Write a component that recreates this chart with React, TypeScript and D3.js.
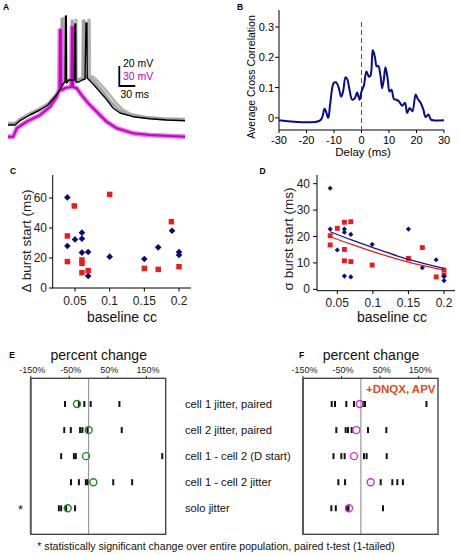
import React from "react";
import * as d3 from "d3";

// ---------- Panel A: membrane potential traces [time ms, mV] ----------
const traceBlack: [number, number][] = [
  [0, -70], [13, -70], [22.5, -65.7], [41, -60], [60, -55], [75, -50], [88, -41.7], [97.5, -35],
  [103, -29], [107, -27], [108, 39], [109.4, 39], [110, -28], [114.5, -25], [124.5, -25], [125.5, 31],
  [127, 31], [127.5, -27], [133, -27], [139, -25], [144.5, -24], [146.3, 32], [148, 32], [148.6, -23],
  [154, -26], [163, -31], [172.6, -37], [185.7, -45], [197, -53], [210, -58], [234.5, -61.7],
  [266, -63.7], [298, -65], [332, -65.7],
];
const traceGray: [number, number][] = [
  [0, -69], [13, -69], [22.5, -64.5], [41, -59], [60, -54], [75, -49], [88, -41], [97, -34],
  [100, -30], [101, 36], [102, 36], [102.5, -28], [108, -26], [119, -24], [120, 34], [121, 34],
  [121.5, -25], [130, -25], [140, -23], [141, 34], [143, 34], [143.5, -22], [152, -22], [162, -27],
  [172, -33], [183, -40], [195, -48], [208, -55], [222, -59], [250, -62], [290, -64], [332, -64.5],
];
const traceGray2: [number, number][] = [
  [0, -68], [13, -68], [24, -63.5], [43, -58], [62, -53], [77, -48], [90, -40], [99, -33],
  [104, -29], [105, 37], [106, 37], [106.5, -27], [114, -25], [126, -23], [127, 35], [128, 35],
  [128.5, -24], [138, -24], [150, -22], [151, 35], [153, 35], [153.5, -21], [160, -22], [170, -27],
  [180, -33], [191, -40], [203, -48], [216, -55], [230, -59], [258, -62], [296, -63.5], [332, -64],
];
const traceMagenta: [number, number][] = [
  [0, -70], [10, -70], [16.3, -57.4], [35, -47.5], [60, -37.5], [79, -25], [91.4, -10], [96.6, 1.5],
  [97.5, 90], [99.4, 90], [100, 0], [107, 3], [114, 4], [119, 5], [120, 94.5], [121.5, 94.5],
  [122, 4.5], [129, 2.6], [138, -7.5], [150.7, -20], [166.4, -32.5], [185, -47.5], [204, -57.4],
  [235, -65], [266, -67.5], [332, -70],
];

// ---------- Panel B: average cross correlation ----------
const ccDelay = [-30, -15, -13.4, -12.1, -11.4, -10.1, -9.2, -8.3, -7.4, -6.7, -5.8, -5.1, -4.4, -3.4,
  -2.4, -1.6, -0.7, 0, 0.85, 1.8, 2.7, 3.3, 4.1, 4.9, 5.5, 6.1, 6.9, 7.5, 8.1, 8.7, 9.5, 10.2, 10.9,
  11.8, 12.6, 13.6, 14.8, 15.8, 16.6, 17.5, 18.5, 19.7, 20.5, 21.5, 22.5, 23.3, 24.3, 25.2, 26, 30];
const ccValue = [-0.008, -0.008, 0.03, 0.0, 0.045, 0.115, 0.117, 0.1, 0.07, 0.087, 0.134, 0.126, 0.095,
  0.06, 0.065, 0.084, 0.06, 0.087, 0.106, 0.153, 0.136, 0.14, 0.224, 0.2, 0.17, 0.172, 0.14, 0.098,
  0.125, 0.167, 0.13, 0.087, 0.093, 0.062, 0.06, 0.055, 0.04, 0.05, 0.016, 0.033, 0.022, 0.077, 0.062,
  0.05, 0.027, 0.003, 0.011, -0.005, -0.008, -0.008];
const bYTicks = [0, 0.1, 0.2, 0.3];
const bXTicks = [-30, -20, -10, 0, 10, 20, 30];

// ---------- Panel C: delta burst start vs baseline cc ----------
const cBlueX = [0.039, 0.039, 0.05, 0.06, 0.06, 0.06, 0.069, 0.069, 0.1, 0.15, 0.17, 0.19, 0.2, 0.2];
const cBlueY = [60.4, 28, 32.4, 36.9, 32.9, 23.6, 24, 8, 20.9, 19.3, 27.1, 38.2, 24, 22];
const cRedX = [0.039, 0.039, 0.049, 0.06, 0.06, 0.06, 0.069, 0.1, 0.15, 0.17, 0.189, 0.2];
const cRedY = [34.7, 17.6, 54.7, 18.7, 16.4, 10.2, 11.6, 62.4, 13.1, 12.4, 44.2, 14.2];
const cYTicks = [0, 20, 40, 60];
const ccTicks = [0.05, 0.1, 0.15, 0.2];

// ---------- Panel D: sigma burst start vs baseline cc ----------
const dBlueX = [0.04, 0.04, 0.05, 0.06, 0.06, 0.06, 0.069, 0.069, 0.099, 0.15, 0.1695, 0.189, 0.2, 0.2];
const dBlueY = [38.3, 22.8, 14.9, 22.8, 21.6, 5, 20.8, 4.7, 17, 22.8, 8.2, 11.2, 4.9, 3.3];
const dRedX = [0.04, 0.04, 0.05, 0.06, 0.06, 0.06, 0.069, 0.069, 0.099, 0.15, 0.1695, 0.189, 0.2, 0.2];
const dRedY = [20.3, 16.8, 23.1, 25.4, 15.1, 10.8, 25.6, 10.5, 9.2, 11.7, 15.8, 4.7, 7.3, 5.4];
const dFitX = [0.04, 0.07, 0.1, 0.15, 0.2];
const dFitBlue = [21.8, 18.7, 15.8, 11.3, 7.9];
const dFitRed = [19.9, 17.0, 14.3, 10.3, 7.3];
const dYTicks = [0, 10, 20, 30, 40];

// ---------- Panels E / F: percent change ----------
const rowLabels = [
  "cell 1 jitter, paired",
  "cell 2 jitter, paired",
  "cell 1 - cell 2 (D start)",
  "cell 1 - cell 2 jitter",
  "solo jitter",
];
const pctTicks = [-150, -50, 50, 150];
const eTicks: number[][] = [
  [-61, -25, -11, 5.5, 80],
  [-63, -46, -22, -16, -3, 86],
  [-71, -38, -33, 191],
  [-45.5, -25, -7, -3, 64, 113],
  [-77, -71, -58, -35],
];
const eMeans = [-30, 0.3, -6.6, 12.4, -54];
const fTicks: number[][] = [
  [-75.6, -67, -37.7, -17.8, 5.5, 10.8, 170],
  [-63.6, -39.4, -33.3, -23.8, 18.5, 66],
  [-71, -50.6, -42, 8.2, 15, 67],
  [-58.4, -41, 51.4, 81.6, 94.5, 109],
  [-76.5, -65, -36.5, -32, 57.4],
];
const fMeans = [-3, -11.7, -17.8, 25.4, -30.7];

const FONT = "'Liberation Sans', Arial, Helvetica, sans-serif";
const NAVY = "#0b0b78";
const RED = "#ee1b1b";

function Letter({ x, y, t }: { x: number; y: number; t: string }) {
  return (
    <text x={x} y={y} fontSize={8.5} fontWeight="bold" fontFamily={FONT}>{t}</text>
  );
}

function PanelA() {
  const x = d3.scaleLinear().domain([0, 332]).range([8, 185]);
  const yB = d3.scaleLinear().domain([-70, -50]).range([125, 105]);
  const yM = d3.scaleLinear().domain([-70, -40]).range([136.7, 116.7]);
  const lineB = d3.line<[number, number]>().x((d) => x(d[0])).y((d) => yB(d[1]));
  const lineM = d3.line<[number, number]>().x((d) => x(d[0])).y((d) => yM(d[1]));
  const bx = 119.3;
  const by = 86;
  const vLen = yB(-70) - yB(-50);
  const hLen = x(30) - x(0);
  return (
    <g>
      <Letter x={3} y={10} t="A" />
      <path d={lineB(traceGray2) || ""} fill="none" stroke="#b4b4b4" strokeWidth={2.6} strokeLinejoin="round" />
      <path d={lineB(traceGray) || ""} fill="none" stroke="#a2a2a2" strokeWidth={2.8} strokeLinejoin="round" />
      <path d={lineM(traceMagenta) || ""} fill="none" stroke="#e27ae2" strokeWidth={4.8} strokeLinejoin="round" />
      <path d={lineM(traceMagenta) || ""} fill="none" stroke="#c800c8" strokeWidth={2} strokeLinejoin="round" />
      <path d={lineB(traceBlack) || ""} fill="none" stroke="#000" strokeWidth={1.4} strokeLinejoin="round" />
      <path d={`M${bx},${by - vLen}V${by}H${bx + hLen}`} fill="none" stroke="#000" strokeWidth={1.8} />
      <text x={123} y={67} fontSize={10.5} fontFamily={FONT}>20 mV</text>
      <text x={123} y={80} fontSize={10.5} fontFamily={FONT} fill="#c000c0">30 mV</text>
      <text x={120.5} y={98} fontSize={10.5} fontFamily={FONT}>30 ms</text>
    </g>
  );
}

function PanelB() {
  const x = d3.scaleLinear().domain([-30, 30]).range([279, 444]);
  const y = d3.scaleLinear().domain([-0.04, 0.356]).range([130, 10]);
  const pts = ccDelay.map((d, i) => [d, ccValue[i]] as [number, number]);
  const line = d3.line<[number, number]>().x((d) => x(d[0])).y((d) => y(d[1])).curve(d3.curveCatmullRom);
  return (
    <g fontFamily={FONT}>
      <Letter x={237} y={10} t="B" />
      <line x1={279} x2={279} y1={10} y2={130} stroke="#000" />
      <line x1={279} x2={444} y1={130} y2={130} stroke="#000" />
      {bYTicks.map((t) => (
        <g key={t}>
          <line x1={275} x2={279} y1={y(t)} y2={y(t)} stroke="#000" />
          <text x={274} y={y(t) + 4} fontSize={11} textAnchor="end">{t === 0 ? "0" : t.toFixed(1)}</text>
        </g>
      ))}
      {bXTicks.map((t) => (
        <g key={t}>
          <line x1={x(t)} x2={x(t)} y1={130} y2={133} stroke="#000" />
          <text x={x(t)} y={144} fontSize={11} textAnchor="middle">{t}</text>
        </g>
      ))}
      <text x={363} y={156} fontSize={11.5} textAnchor="middle">Delay (ms)</text>
      <text transform="translate(255,77) rotate(-90)" fontSize={10.5} textAnchor="middle">Average Cross Correlation</text>
      <line x1={x(0)} x2={x(0)} y1={22} y2={130} stroke="#555" strokeDasharray="5,3" strokeWidth={1} />
      <path d={line(pts) || ""} fill="none" stroke="#0a0a8a" strokeWidth={2} />
    </g>
  );
}

function squareSym(size: number) {
  return d3.symbol().type(d3.symbolSquare).size(size)() || "";
}

function PanelC() {
  const x = d3.scaleLinear().domain([0.05, 0.2]).range([75, 179]);
  const y = d3.scaleLinear().domain([0, 60]).range([288, 198]);
  const dpath = squareSym(22);
  const spath = squareSym(30);
  return (
    <g fontFamily={FONT}>
      <Letter x={10} y={173.5} t="C" />
      <line x1={52.7} x2={52.7} y1={175} y2={288} stroke="#000" />
      <line x1={52} x2={191} y1={288} y2={288} stroke="#000" />
      {cYTicks.map((t) => (
        <g key={t}>
          <line x1={49} x2={52.7} y1={y(t)} y2={y(t)} stroke="#000" />
          <text x={47} y={y(t) + 4} fontSize={12} textAnchor="end" fill="#222">{t}</text>
        </g>
      ))}
      {ccTicks.map((t) => (
        <g key={t}>
          <line x1={x(t)} x2={x(t)} y1={288} y2={291.5} stroke="#000" />
          <text x={x(t)} y={305} fontSize={12} textAnchor="middle" fill="#222">{t}</text>
        </g>
      ))}
      <text x={122} y={321.5} fontSize={14} textAnchor="middle" fill="#111">baseline cc</text>
      <text transform="translate(30.5,241) rotate(-90)" fontSize={13.5} textAnchor="middle" fill="#222">Δ burst start (ms)</text>
      {cRedX.map((d, i) => (
        <path key={"r" + i} d={spath} transform={`translate(${x(d)},${y(cRedY[i])})`} fill={RED} />
      ))}
      {cBlueX.map((d, i) => (
        <path key={"b" + i} d={dpath} transform={`translate(${x(d)},${y(cBlueY[i])}) rotate(45)`} fill={NAVY} />
      ))}
    </g>
  );
}

function PanelD() {
  const x = d3.scaleLinear().domain([0.05, 0.2]).range([337.3, 444]);
  const y = d3.scaleLinear().domain([0, 40]).range([289.3, 183.7]);
  const dpath = squareSym(13);
  const spath = squareSym(24);
  const fit = d3.line<[number, number]>().x((d) => x(d[0])).y((d) => y(d[1])).curve(d3.curveMonotoneX);
  const fb = dFitX.map((d, i) => [d, dFitBlue[i]] as [number, number]);
  const fr = dFitX.map((d, i) => [d, dFitRed[i]] as [number, number]);
  return (
    <g fontFamily={FONT}>
      <Letter x={259.5} y={174} t="D" />
      <line x1={317} x2={317} y1={175} y2={290.7} stroke="#000" />
      <line x1={317} x2={455} y1={290.7} y2={290.7} stroke="#000" />
      {dYTicks.map((t) => (
        <g key={t}>
          <line x1={313} x2={317} y1={y(t)} y2={y(t)} stroke="#000" />
          <text x={310} y={y(t) + 4} fontSize={12} textAnchor="end" fill="#222">{t}</text>
        </g>
      ))}
      {ccTicks.map((t) => (
        <g key={t}>
          <line x1={x(t)} x2={x(t)} y1={290.7} y2={294} stroke="#000" />
          <text x={x(t)} y={306.5} fontSize={12} textAnchor="middle" fill="#222">{t}</text>
        </g>
      ))}
      <text x={392} y={321.5} fontSize={14} textAnchor="middle" fill="#111">baseline cc</text>
      <text transform="translate(293,239) rotate(-90)" fontSize={13.5} textAnchor="middle" fill="#222">σ burst start (ms)</text>
      {dRedX.map((d, i) => (
        <path key={"r" + i} d={spath} transform={`translate(${x(d)},${y(dRedY[i])})`} fill={RED} />
      ))}
      {dBlueX.map((d, i) => (
        <path key={"b" + i} d={dpath} transform={`translate(${x(d)},${y(dBlueY[i])}) rotate(45)`} fill={NAVY} />
      ))}
      <path d={fit(fr) || ""} fill="none" stroke="#e02020" strokeWidth={1.3} />
      <path d={fit(fb) || ""} fill="none" stroke="#1a1a80" strokeWidth={1.3} />
    </g>
  );
}

function PctPanel({ left, letter, letterX, ticks, means, circle, extra }:
  { left: number; letter: string; letterX: number; ticks: number[][]; means: number[]; circle: string; extra?: boolean }) {
  const x = d3.scaleLinear().domain([-150, 200]).range([left, left + 135]);
  const rowY = d3.scalePoint<number>().domain([0, 1, 2, 3, 4]).range([404, 508.3]);
  const top = 378.3;
  const bottom = 534.3;
  return (
    <g fontFamily={FONT}>
      <Letter x={letterX} y={358} t={letter} />
      <text x={left + 68} y={359.5} fontSize={14} textAnchor="middle" fill="#111">percent change</text>
      {pctTicks.map((t) => (
        <g key={t}>
          <text x={x(t) + 1.5} y={373.3} fontSize={9} textAnchor="middle" fill="#222">{t + "%"}</text>
          <line x1={x(t)} x2={x(t)} y1={top - 2.5} y2={top} stroke="#333" />
        </g>
      ))}
      <line x1={x(0)} x2={x(0)} y1={top} y2={bottom} stroke="#9a9a9a" strokeWidth={1.2} />
      <rect x={left} y={top} width={135} height={bottom - top} fill="none" stroke="#3a3a3a" strokeWidth={1.3} />
      <line x1={left} x2={left} y1={top} y2={bottom} stroke="#555" strokeWidth={1.8} />
      {ticks.map((row, i) => (
        <g key={i}>
          {row.map((v, j) => (
            <line key={j} x1={x(v)} x2={x(v)} y1={rowY(i)! - 3} y2={rowY(i)! + 3} stroke="#111" strokeWidth={2} />
          ))}
          <circle cx={x(means[i])} cy={rowY(i)} r={3.5} fill="none" stroke={circle} strokeWidth={1.4} />
        </g>
      ))}
      {extra && (
        <text x={left + 132.5} y={392.5} fontSize={11.5} fontWeight="bold" textAnchor="end" fill="#e04a1c">+DNQX, APV</text>
      )}
    </g>
  );
}

export default function App() {
  const rowY = d3.scalePoint<number>().domain([0, 1, 2, 3, 4]).range([404, 508.3]);
  return (
    <div style={{ position: "absolute", left: 0, top: 0, width: 458, height: 555, background: "#fff" }}>
      <svg width={458} height={555} viewBox="0 0 458 555" style={{ display: "block" }}>
        <rect width={458} height={555} fill="#fff" />
        <PanelA />
        <PanelB />
        <PanelC />
        <PanelD />
        <PctPanel left={30.7} letter="E" letterX={9.3} ticks={eTicks} means={eMeans} circle="#1f8a1f" />
        <PctPanel left={303} letter="F" letterX={299} ticks={fTicks} means={fMeans} circle="#cc33cc" extra />
        <g fontFamily={FONT} fontSize={11.2} fill="#111">
          {rowLabels.map((l, i) => (
            <text key={l} x={185} y={rowY(i)! + 4}>{l}</text>
          ))}
          <text x={18} y={514} fontSize={13}>*</text>
          <text x={37.3} y={549.5} fontSize={10.6}>* statistically significant change over entire population, paired t-test (1-tailed)</text>
        </g>
      </svg>
    </div>
  );
}
